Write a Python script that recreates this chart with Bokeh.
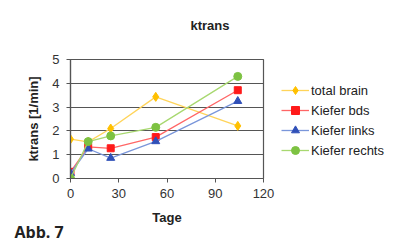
from bokeh.plotting import figure
from bokeh.models import Legend, LegendItem, Title, FixedTicker
from bokeh.embed import file_html
from bokeh.resources import INLINE

days = [0, 11, 25, 53, 104]
total_brain = [1.65, 1.54, 2.1, 3.43, 2.21]
kiefer_bds = [0.28, 1.33, 1.27, 1.74, 3.71]
kiefer_links = [0.22, 1.25, 0.86, 1.56, 3.25]
kiefer_rechts = [0.0, 1.55, 1.79, 2.15, 4.29]

x_ticks = [0, 30, 60, 90, 120]
y_ticks = [0, 1, 2, 3, 4, 5]

FONT = "Liberation Sans"

p = figure(frame_width=193, frame_height=119, output_backend="svg", toolbar_location=None,
           x_range=(0, 120), y_range=(0, 5),
           min_border_left=70, min_border_right=140, min_border_top=59, min_border_bottom=65)

p.title.text = "ktrans\n\u00a0"
p.title.align = "left"
p.title.offset = 120
p.title.vertical_align = "bottom"
p.title.standoff = 24
p.title.text_font = FONT
p.title.text_font_size = "13px"
p.title.text_font_style = "bold"
p.title.text_color = "#222222"

p.outline_line_color = "#555555"
p.outline_line_width = 1.2
p.xgrid.grid_line_color = None
p.ygrid.grid_line_color = "#555555"
p.ygrid.grid_line_width = 1.2
p.ygrid.ticker = FixedTicker(ticks=y_ticks)
p.xaxis.ticker = FixedTicker(ticks=x_ticks)
p.yaxis.ticker = FixedTicker(ticks=y_ticks)

for ax in (p.xaxis, p.yaxis):
    ax.axis_line_color = "#555555"
    ax.axis_line_width = 1.2
    ax.major_tick_line_color = "#555555"
    ax.major_tick_out = 4
    ax.major_tick_in = 0
    ax.minor_tick_line_color = None
    ax.major_label_text_font = FONT
    ax.major_label_text_font_size = "13px"
    ax.major_label_text_color = "#333333"
    ax.axis_label_text_font = FONT
    ax.axis_label_text_font_size = "13px"
    ax.axis_label_text_font_style = "bold"
    ax.axis_label_text_color = "#222222"

p.xaxis.axis_label = "Tage"
p.yaxis.axis_label = "ktrans [1/min]"
p.xaxis.major_label_standoff = 6
p.xaxis.axis_label_standoff = 9
p.yaxis.major_label_standoff = 7
p.yaxis.axis_label_standoff = 8

series = [
    ("total brain", total_brain, "#FFD45A", "#FFC000", "diamond", 9),
    ("Kiefer bds", kiefer_bds, "#FF6666", "#FF1A1A", "square", 7),
    ("Kiefer links", kiefer_links, "#7A96DA", "#3050B8", "triangle", 8),
    ("Kiefer rechts", kiefer_rechts, "#A8D870", "#7DC242", "circle", 8),
]

items = []
for name, vals, lc, mc, marker, sz in series:
    r1 = p.line(days, vals, line_color=lc, line_width=1.3)
    r2 = p.scatter(days, vals, marker=marker, size=sz, fill_color=mc, line_color=mc)
    items.append(LegendItem(label=name, renderers=[r1, r2]))

legend = Legend(items=items, location=(18, 18), orientation="vertical")
legend.background_fill_alpha = 0
legend.border_line_color = None
legend.padding = 0
legend.margin = 0
legend.spacing = 0
legend.glyph_width = 28
legend.glyph_height = 20
legend.label_height = 20
legend.label_standoff = 2
legend.label_text_font = FONT
legend.label_text_font_size = "13px"
legend.label_text_color = "#222222"
p.add_layout(legend, "right")

abb = Title(text="Abb. 7", align="left", offset=-56, standoff=-14, vertical_align="top",
            text_font="Open Sans", text_font_size="16px", text_font_style="bold",
            text_color="#222222")
p.add_layout(abb, "below")

open("out.html", "w").write(file_html(p, INLINE))
